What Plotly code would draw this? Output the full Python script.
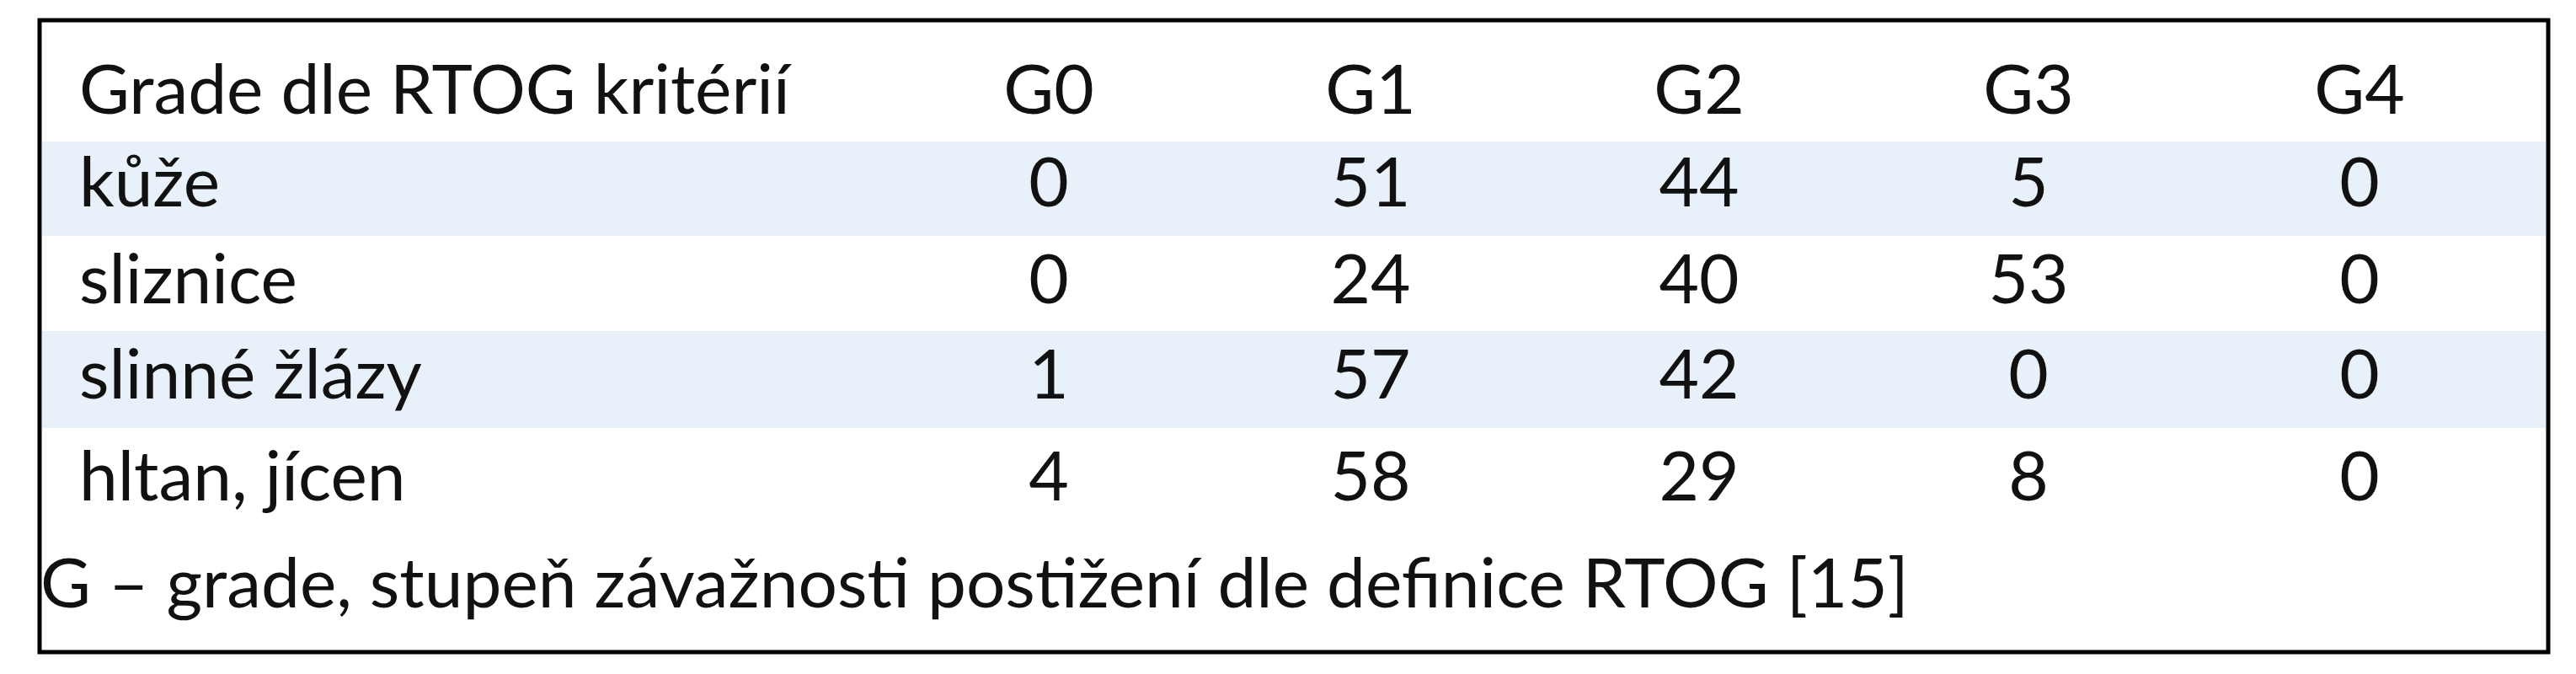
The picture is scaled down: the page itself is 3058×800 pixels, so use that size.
import plotly.graph_objects as go

# table content
header_label = 'Grade dle RTOG kritérií'
grades = ['G0', 'G1', 'G2', 'G3', 'G4']
organs = ['kůže', 'sliznice', 'slinné žlázy', 'hltan, jícen']
g0 = [0, 0, 1, 4]
g1 = [51, 24, 57, 58]
g2 = [44, 40, 42, 29]
g3 = [5, 53, 0, 8]
g4 = [0, 0, 0, 0]
footnote = 'G – grade, stupeň závažnosti postižení dle definice RTOG [15]'

W, H = 3058, 800
FONT = dict(family='Lato, Open Sans, sans-serif', size=82, color='#111111')
BAND = '#e8f0f9'

col_x = [1237, 1619, 2009, 2400, 2793]
label_x = 86
header_y = 106
row_y = [216, 331, 444, 565]
row_edges = [(160, 272), (272, 385), (385, 500), (500, 615)]

fig = go.Figure()

# shaded rows (every other body row)
for i, (top, bottom) in enumerate(row_edges):
    if i % 2 == 0:
        fig.add_shape(type='rect', x0=42, x1=3014, y0=top, y1=bottom,
                      xref='x', yref='y', fillcolor=BAND, line_width=0, layer='below')

# outer border
fig.add_shape(type='rect', x0=39, x1=3017, y0=16, y1=766, xref='x', yref='y',
              line=dict(color='#000000', width=5), fillcolor='rgba(0,0,0,0)')

# header row
fig.add_trace(go.Scatter(x=[label_x], y=[header_y], text=[header_label], mode='text',
                         textposition='middle right', textfont=FONT, hoverinfo='skip'))
fig.add_trace(go.Scatter(x=col_x, y=[header_y] * len(grades), text=grades, mode='text',
                         textposition='middle center', textfont=FONT, hoverinfo='skip'))

# body rows
fig.add_trace(go.Scatter(x=[label_x] * len(organs), y=row_y, text=organs, mode='text',
                         textposition='middle right', textfont=FONT, hoverinfo='skip'))
for cx, col in zip(col_x, [g0, g1, g2, g3, g4]):
    fig.add_trace(go.Scatter(x=[cx] * len(col), y=row_y, text=[str(v) for v in col],
                             mode='text', textposition='middle center', textfont=FONT,
                             hoverinfo='skip'))

# footnote
fig.add_trace(go.Scatter(x=[40], y=[692], text=[footnote], mode='text',
                         textposition='middle right', textfont=FONT, hoverinfo='skip'))

fig.update_layout(width=W, height=H, margin=dict(l=0, r=0, t=0, b=0),
                  paper_bgcolor='white', plot_bgcolor='white', showlegend=False,
                  xaxis=dict(range=[0, W], visible=False, fixedrange=True),
                  yaxis=dict(range=[H, 0], visible=False, fixedrange=True))

fig.write_html('out.html')
